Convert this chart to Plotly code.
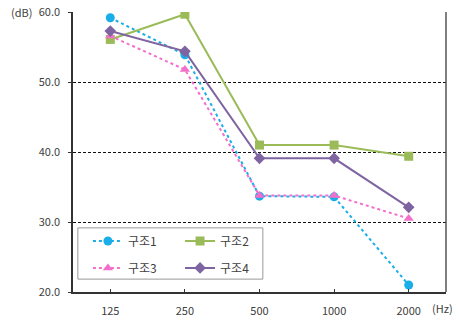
import plotly.graph_objects as go

categories = ["125", "250", "500", "1000", "2000"]
s1 = [59.2, 53.9, 33.7, 33.6, 21.0]
s2 = [56.1, 59.7, 41.0, 41.0, 39.4]
s3 = [56.6, 51.8, 33.8, 33.8, 30.5]
s4 = [57.3, 54.4, 39.1, 39.1, 32.1]
names = ["구조1", "구조2", "구조3", "구조4"]
y_ticks = [20, 30, 40, 50, 60]

FONT = "Noto Sans CJK KR"
TXT = "#404040"

fig = go.Figure()
specs = [
    (s1, names[0], "#1AAEE8", "dot", "circle", 9, "legend"),
    (s2, names[1], "#9BBB59", "solid", "square", 9, "legend2"),
    (s3, names[2], "#F46FCB", "dot", "triangle-up", 9, "legend3"),
    (s4, names[3], "#7F64A2", "solid", "diamond", 9, "legend4"),
]
for vals, nm, col, dash, sym, sz, lg in specs:
    fig.add_trace(go.Scatter(
        x=categories, y=vals, name=nm, mode="lines+markers",
        line=dict(color=col, width=2, dash=dash),
        marker=dict(symbol=sym, size=sz, color=col),
        legend=lg, showlegend=True,
    ))

def leg(x, y):
    return dict(x=x, y=y, xanchor="left", yanchor="middle",
                bgcolor="rgba(0,0,0,0)", borderwidth=0,
                font=dict(family=FONT, size=12, color=TXT),
                visible=True)

fig.update_layout(
    width=459, height=320,
    margin=dict(l=73, r=13, t=12, b=28, autoexpand=False),
    plot_bgcolor="white", paper_bgcolor="white",
    showlegend=True,
    font=dict(family=FONT, size=11, color=TXT),
    xaxis=dict(
        type="category", range=[-0.5, 4.5], automargin=False,
        showgrid=False, showline=True, linecolor="#333333", linewidth=1.5,
        ticks="inside", ticklen=3, tickcolor="#333333",
        ticklabelstandoff=8, tickfont=dict(family=FONT, size=11, color=TXT),
    ),
    yaxis=dict(
        range=[20, 60.02], tickvals=y_ticks, tickformat=".1f", automargin=False,
        showgrid=True, gridcolor="#111111", gridwidth=1, griddash="3px,2px",
        showline=True, linecolor="#333333", linewidth=1.5,
        ticks="outside", ticklen=3, tickcolor="#333333",
        ticklabelstandoff=6, zeroline=False,
        tickfont=dict(family=FONT, size=11, color=TXT),
    ),
    legend=leg(0.040, 0.182),
    legend2=leg(0.287, 0.182),
    legend3=leg(0.040, 0.086),
    legend4=leg(0.287, 0.086),
    shapes=[
        dict(type="rect", xref="paper", yref="paper", x0=0.013, x1=0.509,
             y0=0.046, y1=0.229, line=dict(color="#999999", width=1),
             fillcolor="white", layer="below"),
        dict(type="line", xref="paper", yref="paper", x0=1, x1=1, y0=0, y1=1,
             line=dict(color="#555555", width=1.5)),
    ],
    annotations=[
        dict(text="(dB)", xref="paper", yref="paper", x=-0.137, y=1.0,
             xanchor="center", yanchor="middle", showarrow=False,
             font=dict(family=FONT, size=11, color=TXT)),
        dict(text="(Hz)", xref="paper", yref="paper", x=0.99, y=-0.057,
             xanchor="center", yanchor="middle", showarrow=False,
             font=dict(family=FONT, size=11, color=TXT)),
    ],
)

fig.write_html("out.html", config={"displayModeBar": False},
               post_script="document.body.style.margin='0';document.body.style.overflow='hidden';")
